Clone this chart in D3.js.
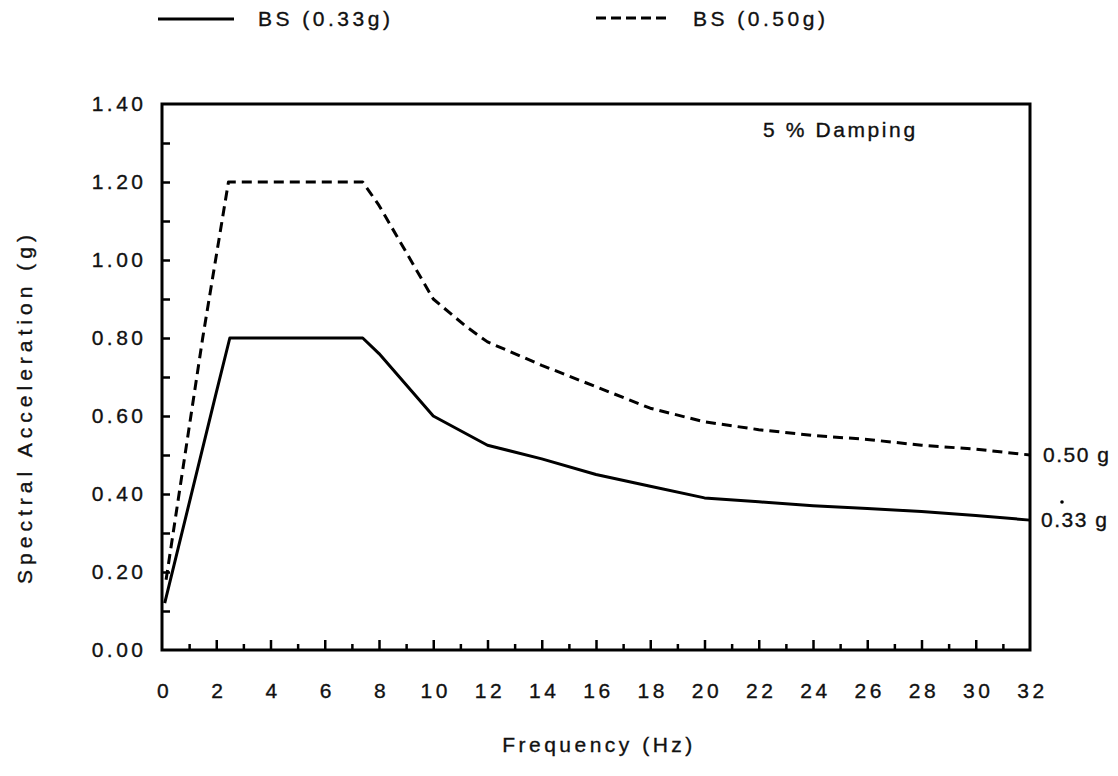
<!DOCTYPE html>
<html lang="en">
<head>
    <meta charset="UTF-8">
    <title>Spectral Acceleration</title>
    <script src="https://d3js.org/d3.v7.min.js"></script>
    <style>
        body {
            margin: 0;
            padding: 0;
            background: white;
            font-family: 'Liberation Sans', Arial, sans-serif;
        }
        svg text {
            fill: #111;
            stroke: #111;
            stroke-width: 0.35;
            font-size: 21px;
            letter-spacing: 3.5px;
        }
        .frame {
            fill: none;
            stroke: #000;
            stroke-width: 3;
        }
        .curve {
            fill: none;
            stroke: #000;
            stroke-width: 3;
            stroke-linejoin: round;
        }
    </style>
</head>
<body>
    <div id="chart"></div>

    <script>
        // BS (0.33g) spectrum
        const freq033 = [0.1, 2.0, 2.5, 7.4, 8, 10, 12, 14, 16, 18, 20, 22, 24, 26, 28, 30, 32];
        const sa033 = [0.12, 0.66, 0.80, 0.80, 0.76, 0.60, 0.525, 0.49, 0.45, 0.42, 0.39, 0.38, 0.37, 0.363, 0.355, 0.345, 0.333];

        // BS (0.50g) spectrum
        const freq050 = [0.15, 1.5, 2.45, 7.4, 8, 10, 11.2, 12, 14, 16, 18, 20, 22, 24, 26, 28, 30, 32];
        const sa050 = [0.18, 0.80, 1.20, 1.20, 1.14, 0.90, 0.83, 0.79, 0.73, 0.675, 0.62, 0.585, 0.565, 0.55, 0.54, 0.525, 0.515, 0.50];

        const xTicks = d3.range(0, 33, 2);
        const yTicks = [0, 0.2, 0.4, 0.6, 0.8, 1.0, 1.2, 1.4];
        const seriesNames = ["BS (0.33g)", "BS (0.50g)"];
        const endLabels = ["0.33 g", "0.50 g"];

        const width = 1118, height = 776;
        const svg = d3.select("#chart").append("svg")
            .attr("width", width)
            .attr("height", height);

        const x = d3.scaleLinear().domain([0, 32]).range([162, 1030]);
        const y = d3.scaleLinear().domain([0, 1.4]).range([650, 104]);

        // inward ticks on left and bottom
        const gx = svg.append("g")
            .attr("transform", `translate(0,${y(0)})`)
            .call(d3.axisBottom(x).tickValues(d3.range(1, 32, 2)).tickSize(-6).tickFormat(""));
        const gx2 = svg.append("g")
            .attr("transform", `translate(0,${y(0)})`)
            .call(d3.axisBottom(x).tickValues(xTicks.slice(1, -1)).tickSize(-10).tickFormat(""));
        const gy = svg.append("g")
            .attr("transform", `translate(${x(0)},0)`)
            .call(d3.axisLeft(y).tickValues(d3.range(1, 14).map(d => d / 10)).tickSize(-8).tickFormat(""));
        [gx, gx2, gy].forEach(g => {
            g.select(".domain").remove();
            g.selectAll("line").attr("stroke", "#000").attr("stroke-width", 2.5);
        });

        // tick labels
        svg.append("g").selectAll("text")
            .data(xTicks)
            .join("text")
            .attr("x", d => x(d) + 2.5)
            .attr("y", 698)
            .attr("text-anchor", "middle")
            .text(d => d);

        svg.append("g").selectAll("text")
            .data(yTicks)
            .join("text")
            .attr("x", 146.5)
            .attr("y", d => y(d) + 7)
            .attr("text-anchor", "end")
            .text(d => d.toFixed(2));

        // frame
        svg.append("rect")
            .attr("class", "frame")
            .attr("x", x(0))
            .attr("y", y(1.4))
            .attr("width", x(32) - x(0))
            .attr("height", y(0) - y(1.4));

        const line = d3.line()
            .x(d => x(d[0]))
            .y(d => y(d[1]));

        svg.append("path")
            .attr("class", "curve")
            .attr("d", line(d3.zip(freq033, sa033)));

        svg.append("path")
            .attr("class", "curve")
            .attr("stroke-dasharray", "10,6")
            .attr("d", line(d3.zip(freq050, sa050)));

        // end labels
        svg.append("text")
            .attr("x", 1041)
            .attr("y", y(sa033[sa033.length - 1]) + 7)
            .style("letter-spacing", "1.5px")
            .text(endLabels[0]);
        svg.append("circle")
            .attr("cx", 1062).attr("cy", 502).attr("r", 1.8).attr("fill", "#000");
        svg.append("text")
            .attr("x", 1043)
            .attr("y", y(sa050[sa050.length - 1]) + 7)
            .style("letter-spacing", "1.5px")
            .text(endLabels[1]);

        svg.append("text")
            .attr("x", 763)
            .attr("y", 137)
            .style("letter-spacing", "2.6px")
            .text("5 % Damping");

        // axis titles
        svg.append("text")
            .attr("transform", "translate(32,407) rotate(-90)")
            .attr("text-anchor", "middle")
            .style("letter-spacing", "5px")
            .text("Spectral Acceleration (g)");

        svg.append("text")
            .attr("x", 599)
            .attr("y", 752)
            .attr("text-anchor", "middle")
            .text("Frequency (Hz)");

        // legend
        svg.append("line")
            .attr("x1", 158).attr("x2", 234).attr("y1", 19).attr("y2", 19)
            .attr("stroke", "#000").attr("stroke-width", 3);
        svg.append("text").attr("x", 258).attr("y", 26).text(seriesNames[0]);

        svg.append("line")
            .attr("x1", 596).attr("x2", 666).attr("y1", 18).attr("y2", 18)
            .attr("stroke", "#000").attr("stroke-width", 3)
            .attr("stroke-dasharray", "10,5");
        svg.append("text").attr("x", 693).attr("y", 26).text(seriesNames[1]);
    </script>
</body>
</html>
